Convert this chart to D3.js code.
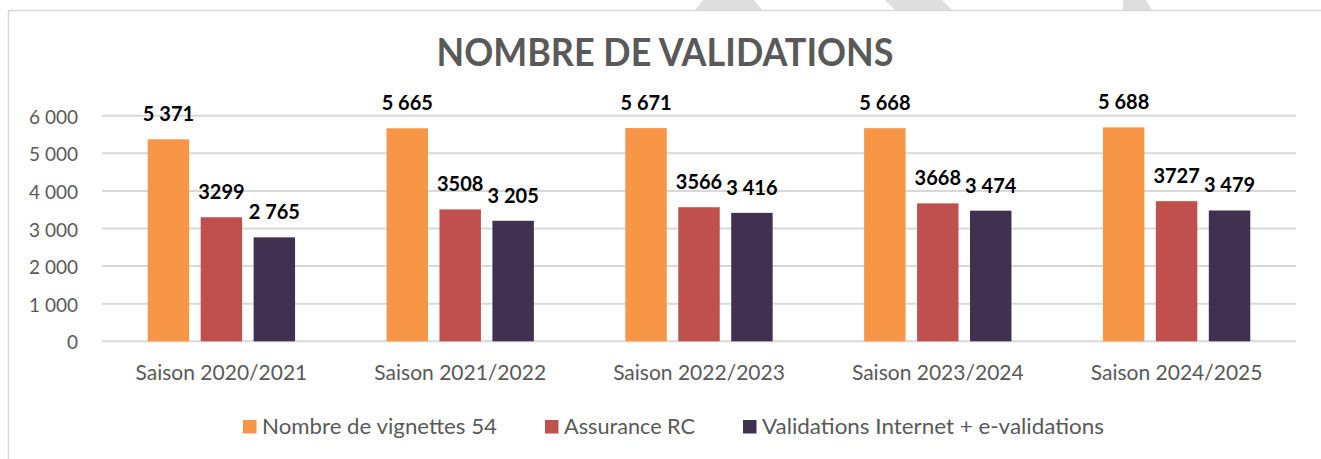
<!DOCTYPE html>
<html>
<head>
<meta charset="utf-8">
<script src="https://cdn.jsdelivr.net/npm/d3@7"></script>
<style>
  html, body { margin: 0; padding: 0; background: #fff; }
  svg { display: block; font-family: Lato, "Open Sans", sans-serif; }
</style>
</head>
<body>
<div id="chart"></div>
<script>
const W = 1321, H = 459;

// --- données ---
const saisons = ["Saison 2020/2021", "Saison 2021/2022", "Saison 2022/2023", "Saison 2023/2024", "Saison 2024/2025"];
const seriesNames = ["Nombre de vignettes 54", "Assurance RC", "Validations Internet + e-validations"];
const vignettes = [5371, 5665, 5671, 5668, 5688];
const assuranceRC = [3299, 3508, 3566, 3668, 3727];
const validations = [2765, 3205, 3416, 3474, 3479];
const yTicks = [0, 1000, 2000, 3000, 4000, 5000, 6000];

const colors = ["#F79646", "#C0504D", "#403151"];
const values = [vignettes, assuranceRC, validations];

const fr = d3.formatLocale({ decimal: ",", thousands: "\u00a0", grouping: [3], currency: ["", " €"] });
const fmtSpace = fr.format(",");
const fmtPlain = d3.format("d");
// l'assurance RC est affichée sans séparateur de milliers
const labelFormats = [fmtSpace, fmtPlain, fmtSpace];

const margin = { left: 102, right: 1296, top: 115.7, bottom: 341.3 };

const svg = d3.select("#chart").append("svg")
    .attr("width", W)
    .attr("height", H)
    .attr("viewBox", `0 0 ${W} ${H}`);

// bandes grises en haut (fond du document)
const stripes = [
    [[703, 0], [754, 0], [762, 10], [695, 10]],
    [[885, 0], [942, 0], [952, 10], [895, 10]],
    [[1123, 0], [1146, 0], [1152, 10], [1123, 10]]
];
svg.selectAll("polygon.stripe")
    .data(stripes)
    .enter()
    .append("polygon")
    .attr("class", "stripe")
    .attr("points", d => d.map(p => p.join(",")).join(" "))
    .attr("fill", "#dedede");

// cadre
svg.append("rect")
    .attr("x", 8.5)
    .attr("y", 10.5)
    .attr("width", 1400)
    .attr("height", 500)
    .attr("fill", "#fff")
    .attr("stroke", "#d9d9d9")
    .attr("stroke-width", 1.5);

// titre
svg.append("text")
    .attr("x", 665)
    .attr("y", 65.7)
    .attr("text-anchor", "middle")
    .attr("font-size", 38)
    .attr("font-weight", "bold")
    .attr("fill", "#595959")
    .attr("textLength", 457)
    .attr("lengthAdjust", "spacingAndGlyphs")
    .text("NOMBRE DE VALIDATIONS");

// --- échelles ---
const y = d3.scaleLinear()
    .domain([0, 6000])
    .range([margin.bottom, margin.top]);

const x0 = d3.scaleBand()
    .domain(saisons)
    .range([margin.left, margin.right])
    .paddingInner(0.383)
    .paddingOuter(0.1915);

const x1 = d3.scaleBand()
    .domain(d3.range(seriesNames.length))
    .range([0, x0.bandwidth()])
    .paddingInner(0.217);

// grille
svg.append("g")
    .selectAll("line")
    .data(yTicks)
    .enter()
    .append("line")
    .attr("x1", margin.left)
    .attr("x2", margin.right)
    .attr("y1", d => y(d))
    .attr("y2", d => y(d))
    .attr("stroke", "#d9d9d9")
    .attr("stroke-width", 2);

// axe Y
const yAxis = svg.append("g")
    .attr("transform", `translate(78,0)`)
    .call(d3.axisLeft(y).tickValues(yTicks).tickSize(0).tickPadding(0).tickFormat(fmtSpace));
yAxis.select(".domain").remove();
yAxis.selectAll("text")
    .attr("font-family", "Lato, sans-serif")
    .attr("font-size", 19)
    .attr("fill", "#595959")
    .attr("dy", "0.4em");

// axe X
const xAxis = svg.append("g")
    .attr("transform", `translate(0,${margin.bottom})`)
    .call(d3.axisBottom(x0).tickSize(0).tickPadding(0));
xAxis.select(".domain").remove();
xAxis.selectAll("text")
    .attr("font-family", "Lato, sans-serif")
    .attr("font-size", 21)
    .attr("fill", "#595959")
    .attr("dy", 0)
    .attr("y", 38.7);

// barres
const groups = svg.append("g")
    .selectAll("g")
    .data(saisons)
    .enter()
    .append("g")
    .attr("transform", d => `translate(${x0(d)},0)`);

const cells = groups.selectAll("g")
    .data((d, i) => values.map((arr, s) => ({ s: s, v: arr[i] })))
    .enter()
    .append("g");

cells.append("rect")
    .attr("x", d => x1(d.s))
    .attr("y", d => y(d.v))
    .attr("width", x1.bandwidth())
    .attr("height", d => y(0) - y(d.v))
    .attr("fill", d => colors[d.s]);

cells.append("text")
    .attr("x", d => x1(d.s) + x1.bandwidth() / 2)
    .attr("y", d => y(d.v) - 18)
    .attr("text-anchor", "middle")
    .attr("font-size", 20)
    .attr("font-weight", "bold")
    .attr("fill", "#000")
    .text(d => labelFormats[d.s](d.v));

// légende
const legendPos = [
    { sq: 243, tx: 262, w: 235 },
    { sq: 545, tx: 564, w: 131 },
    { sq: 743, tx: 762, w: 342 }
];
const legend = svg.append("g")
    .selectAll("g")
    .data(seriesNames)
    .enter()
    .append("g");

legend.append("rect")
    .attr("x", (d, i) => legendPos[i].sq)
    .attr("y", 420)
    .attr("width", 13.5)
    .attr("height", 13.5)
    .attr("fill", (d, i) => colors[i]);

legend.append("text")
    .attr("x", (d, i) => legendPos[i].tx)
    .attr("y", 433.5)
    .attr("font-size", 21)
    .attr("fill", "#595959")
    .attr("textLength", (d, i) => legendPos[i].w)
    .attr("lengthAdjust", "spacingAndGlyphs")
    .text(d => d);
</script>
</body>
</html>
